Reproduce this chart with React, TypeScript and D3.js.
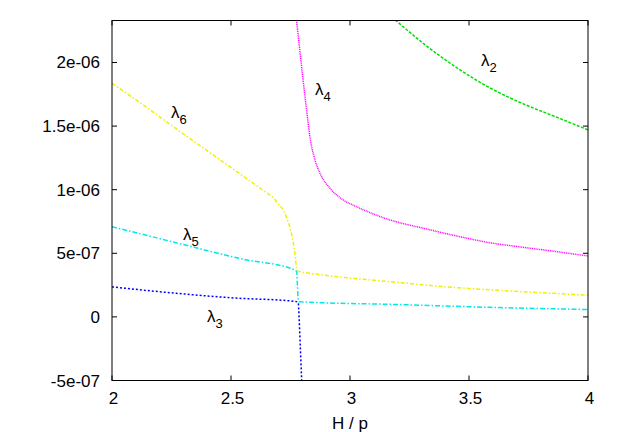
import React from "react";
import * as d3 from "d3";

const X_TICKS = [2, 2.5, 3, 3.5, 4];
const X_LABELS = ["2", "2.5", "3", "3.5", "4"];
const Y_TICKS = [-5e-7, 0, 5e-7, 1e-6, 1.5e-6, 2e-6];
const Y_LABELS = ["-5e-07", "0", "5e-07", "1e-06", "1.5e-06", "2e-06"];

const L2_X = [3.19, 3.308, 3.448, 3.588, 3.728, 3.868, 4.0];
const L2_Y = [2.335e-6, 2.15e-6, 1.96e-6, 1.8e-6, 1.675e-6, 1.57e-6, 1.47e-6];

const L3_X = [2.0, 2.25, 2.53, 2.739, 2.775, 2.783, 2.7845, 2.786, 2.7915, 2.797];
const L3_Y = [2.36e-7, 1.89e-7, 1.47e-7, 1.27e-7, 1.2e-7, 1.12e-7, 0.6e-7, 0.0, -2.5e-7, -5.0e-7];

const L4_X = [2.774, 2.797, 2.818, 2.832, 2.853, 2.874, 2.916, 2.972, 3.028, 3.168, 3.308, 3.448, 3.588, 3.728, 3.868, 4.0];
const L4_Y = [2.36e-6, 1.96e-6, 1.62e-6, 1.41e-6, 1.233e-6, 1.129e-6, 1.011e-6, 9.19e-7, 8.66e-7, 7.62e-7, 6.97e-7, 6.36e-7, 5.83e-7, 5.47e-7, 5.13e-7, 4.79e-7];

const L5_X = [2.0, 2.272, 2.552, 2.769, 2.776, 2.779, 2.782, 2.786, 2.8, 2.9, 3.168, 3.588, 4.0];
const L5_Y = [7.09e-7, 5.82e-7, 4.53e-7, 3.69e-7, 3.55e-7, 2.5e-7, 1.4e-7, 1.19e-7, 1.18e-7, 1.1e-7, 0.99e-7, 0.75e-7, 0.58e-7];

const L6_X = [2.0, 2.1315, 2.272, 2.412, 2.552, 2.622, 2.692, 2.734, 2.755, 2.769, 2.776, 2.782, 2.8, 2.888, 3.168, 3.448, 3.728, 4.0];
const L6_Y = [1.836e-6, 1.666e-6, 1.476e-6, 1.29e-6, 1.105e-6, 1.012e-6, 9.05e-7, 7.8e-7, 6.45e-7, 4.9e-7, 3.8e-7, 3.6e-7, 3.52e-7, 3.29e-7, 2.77e-7, 2.3e-7, 1.98e-7, 1.7e-7];

const SERIES = [
  { name: "l2", xs: L2_X, ys: L2_Y, color: "#00e000", dash: "3,1.5" },
  { name: "l3", xs: L3_X, ys: L3_Y, color: "#0000ff", dash: "2,2" },
  { name: "l4", xs: L4_X, ys: L4_Y, color: "#ff00ff", dash: "1,0.8" },
  { name: "l5", xs: L5_X, ys: L5_Y, color: "#00e8e8", dash: "5,2,1.5,2" },
  { name: "l6", xs: L6_X, ys: L6_Y, color: "#f0f000", dash: "4,2,1.5,2" },
];

const LABELS = [
  { sub: "2", x: 481, y: 66 },
  { sub: "4", x: 315, y: 95 },
  { sub: "6", x: 171, y: 118 },
  { sub: "5", x: 183, y: 240 },
  { sub: "3", x: 207, y: 322 },
];

const W = 617;
const H = 432;
const L = 112;
const R = 588;
const T = 20.5;
const B = 380.5;
const FONT = "'Liberation Sans', Arial, Helvetica, sans-serif";

export default function App() {
  const x = d3.scaleLinear().domain([2, 4]).range([L, R]);
  const y = d3.scaleLinear().domain([-5e-7, 2.33e-6]).range([B, T]);
  const line = d3
    .line<[number, number]>()
    .x((d) => x(d[0]))
    .y((d) => y(d[1]))
    .curve(d3.curveMonotoneX);
  const tick = 5;

  return (
    <svg
      width={W}
      height={H}
      style={{ position: "absolute", left: 0, top: 0, background: "#fff" }}
      fontFamily={FONT}
    >
      <defs>
        <clipPath id="plot">
          <rect x={L} y={T} width={R - L} height={B - T} />
        </clipPath>
      </defs>
      <rect x={0} y={0} width={W} height={H} fill="#fff" />
      <g clipPath="url(#plot)" fill="none">
        {SERIES.map((s) => (
          <path
            key={s.name}
            d={line(s.xs.map((v, i) => [v, s.ys[i]] as [number, number])) || ""}
            stroke={s.color}
            strokeWidth={1.5}
            strokeDasharray={s.dash}
          />
        ))}
      </g>
      <g stroke="#000" strokeWidth={1}>
        {X_TICKS.map((t) => (
          <g key={"xt" + t}>
            <line x1={x(t)} x2={x(t)} y1={B} y2={B - tick} />
            <line x1={x(t)} x2={x(t)} y1={T} y2={T + tick} />
          </g>
        ))}
        {Y_TICKS.map((t) => (
          <g key={"yt" + t}>
            <line x1={L} x2={L + tick} y1={y(t)} y2={y(t)} />
            <line x1={R} x2={R - tick} y1={y(t)} y2={y(t)} />
          </g>
        ))}
        <rect x={L} y={T} width={R - L} height={B - T} fill="none" />
      </g>
      <g fontSize={17} fill="#000">
        {X_TICKS.map((t, i) => (
          <text key={"xl" + t} x={x(t) + 1.5} y={403.5} textAnchor="middle">
            {X_LABELS[i]}
          </text>
        ))}
        {Y_TICKS.map((t, i) => (
          <text key={"yl" + t} x={100} y={y(t) + 6} textAnchor="end">
            {Y_LABELS[i]}
          </text>
        ))}
        <text x={350} y={428.5} textAnchor="middle">
          H / p
        </text>
        {LABELS.map((l) => (
          <text key={"lab" + l.sub} x={l.x} y={l.y}>
            <tspan>λ</tspan>
            <tspan fontSize={13} dy={6}>
              {l.sub}
            </tspan>
          </text>
        ))}
      </g>
    </svg>
  );
}
